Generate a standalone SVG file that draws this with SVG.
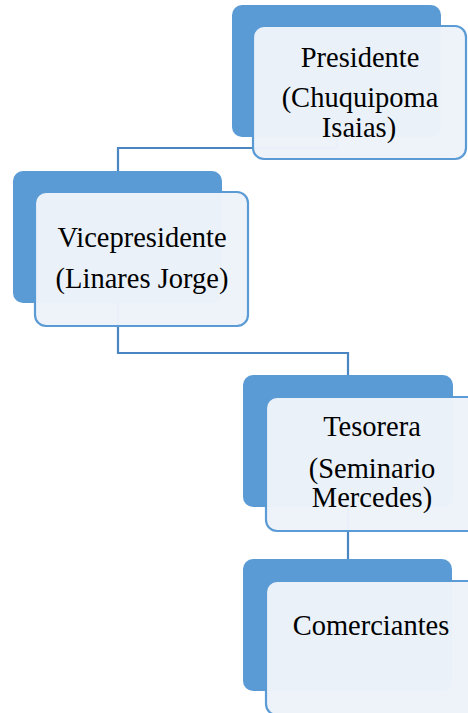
<svg xmlns="http://www.w3.org/2000/svg" width="468" height="713" viewBox="0 0 468 713">
<style>
.back{fill:#5B9BD5;}
.front{fill:#EEF3FA;fill-opacity:0.975;stroke:#5B9BD5;stroke-width:2.2;}
.conn{fill:none;stroke:#4A86C2;stroke-width:2.2;}
.t{font-family:"Liberation Serif","Times New Roman",serif;font-size:28.5px;fill:#000;text-anchor:middle;}
</style>
<rect width="468" height="713" fill="#fff"/>
<g id="connectors">
<path class="conn" d="M337,137 V148 H118 V172"/>
<path class="conn" d="M118,303 V353 H348 V375"/>
<path class="conn" d="M348,507 V559"/>
</g>
<g id="presidente">
<rect class="back" x="232" y="5" width="209" height="132" rx="10"/>
<rect class="front" x="253" y="26" width="213" height="133" rx="11"/>
<text class="t" x="360" y="67">Presidente</text>
<text class="t" x="360" y="107">(Chuquipoma</text>
<text class="t" x="359" y="137">Isaias)</text>
</g>
<g id="vicepresidente">
<rect class="back" x="13" y="171" width="209" height="132" rx="10"/>
<rect class="front" x="35" y="192" width="213" height="134" rx="11"/>
<text class="t" x="142" y="247">Vicepresidente</text>
<text class="t" x="142" y="288">(Linares Jorge)</text>
</g>
<g id="tesorera">
<rect class="back" x="243" y="375" width="210" height="132" rx="10"/>
<rect class="front" x="266" y="397" width="213" height="134" rx="11"/>
<text class="t" x="372" y="436">Tesorera</text>
<text class="t" x="372" y="478">(Seminario</text>
<text class="t" x="372" y="507">Mercedes)</text>
</g>
<g id="comerciantes">
<rect class="back" x="243" y="559" width="209" height="132" rx="10"/>
<rect class="front" x="266" y="581" width="213" height="134" rx="11"/>
<text class="t" x="371" y="635">Comerciantes</text>
</g>
</svg>
